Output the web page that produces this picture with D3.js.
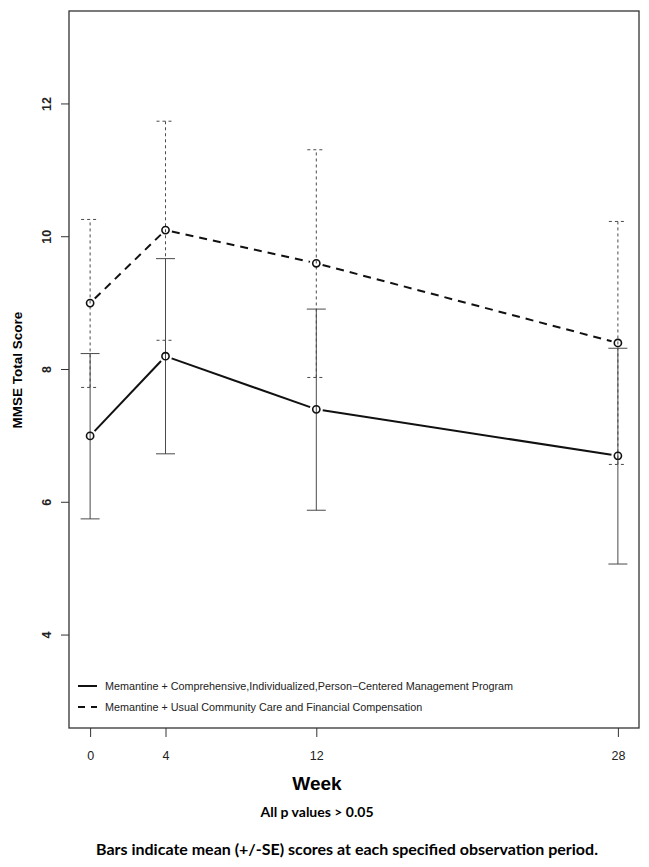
<!DOCTYPE html>
<html><head><meta charset="utf-8">
<script src="https://cdnjs.cloudflare.com/ajax/libs/d3/7.8.5/d3.min.js"></script>
<style>body{margin:0;background:#fff}svg{display:block}</style>
</head><body>
<script>
const weeks = [0, 4, 12, 28];
const seriesNames = [
  "Memantine + Comprehensive,Individualized,Person\u2212Centered Management Program",
  "Memantine + Usual Community Care and Financial Compensation"
];
const meanA = [7.0, 8.2, 7.4, 6.7];
const lowerA = [5.75, 6.73, 5.88, 5.07];
const upperA = [8.24, 9.67, 8.91, 8.32];
const meanB = [9.0, 10.1, 9.6, 8.4];
const lowerB = [7.73, 8.44, 7.88, 6.57];
const upperB = [10.26, 11.74, 11.31, 10.23];
const yTicks = [4, 6, 8, 10, 12];
const xTicks = [0, 4, 12, 28];

(function(){
const W = 649, H = 867;
const FONT = "'Liberation Sans', Arial, Helvetica, sans-serif";
const svg = d3.select("body").append("svg").attr("width", W).attr("height", H);
const pL = 69, pR = 639, pT = 11, pB = 728;
const x = d3.scaleLinear().domain([-1.12, 29.12]).range([pL, pR]);
const y = d3.scaleLinear().domain([2.6, 13.4]).range([pB, pT]);

svg.append("rect").attr("x", pL).attr("y", pT).attr("width", pR-pL).attr("height", pB-pT)
  .attr("fill", "none").attr("stroke", "#333").attr("stroke-width", 1.3);

const yAxis = d3.axisLeft(y).tickValues(yTicks).tickSize(8).tickFormat(d3.format("d"));
const gy = svg.append("g").attr("transform", `translate(${pL},0)`).call(yAxis);
gy.select(".domain").remove();
gy.selectAll("line").attr("stroke", "#333");
gy.selectAll(".tick").attr("transform", null);
gy.selectAll(".tick line").attr("y1", d => y(d)).attr("y2", d => y(d));
gy.selectAll(".tick text").attr("x", null).attr("dy", null).attr("y", null)
  .attr("transform", d => `translate(${47 - pL},${y(d)}) rotate(-90)`)
  .attr("text-anchor", "middle").attr("dominant-baseline", "central")
  .style("font-family", FONT).style("font-size", "12.5px")
  .style("font-weight", "bold").attr("fill", "#222");

const xAxis = d3.axisBottom(x).tickValues(xTicks).tickSize(9).tickPadding(14);
const gx = svg.append("g").attr("transform", `translate(0,${pB})`).call(xAxis);
gx.select(".domain").remove();
gx.selectAll("line").attr("stroke", "#333");
gx.selectAll("text").style("font-family", FONT).style("font-size", "12.5px").attr("fill", "#222");

svg.append("text").attr("transform", `translate(17,370) rotate(-90)`).attr("text-anchor", "middle")
  .attr("dominant-baseline", "central")
  .style("font-family", FONT).style("font-size", "13.5px").style("font-weight", "bold")
  .text("MMSE Total Score");
svg.append("text").attr("x", 317).attr("y", 790).attr("text-anchor", "middle")
  .style("font-family", FONT).style("font-size", "19px").style("font-weight", "bold")
  .text("Week");

function errBars(lo, hi, cap, dash) {
  const g = svg.append("g").attr("stroke", "#4a4a4a").attr("stroke-width", 1).attr("fill", "none");
  weeks.forEach((w, i) => {
    const cx = x(w);
    g.append("line").attr("x1", cx).attr("x2", cx).attr("y1", y(lo[i])).attr("y2", y(hi[i]))
      .attr("stroke-dasharray", dash);
    [lo[i], hi[i]].forEach(v => g.append("line").attr("x1", cx-cap).attr("x2", cx+cap)
      .attr("y1", y(v)).attr("y2", y(v)).attr("stroke-dasharray", dash));
  });
}
errBars(lowerA, upperA, 9.5, null);
errBars(lowerB, upperB, 9, "3,3");

function seriesLine(vals, dash) {
  const pts = weeks.map((w, i) => [x(w), y(vals[i])]);
  const g = svg.append("g");
  for (let i = 0; i < pts.length - 1; i++) {
    const [x1, y1] = pts[i], [x2, y2] = pts[i+1];
    const len = Math.hypot(x2-x1, y2-y1), gap = 6.5;
    const ux = (x2-x1)/len, uy = (y2-y1)/len;
    g.append("line").attr("x1", x1+ux*gap).attr("y1", y1+uy*gap).attr("x2", x2-ux*gap).attr("y2", y2-uy*gap)
      .attr("stroke", "#111").attr("stroke-width", 2).attr("stroke-dasharray", dash);
  }
  g.selectAll("circle").data(pts).join("circle").attr("cx", d => d[0]).attr("cy", d => d[1]).attr("r", 3.6)
    .attr("fill", "none").attr("stroke", "#111").attr("stroke-width", 1.6);
}
seriesLine(meanA, null);
seriesLine(meanB, "8,6");

const leg = svg.append("g");
[[686, null], [707, "7,6"]].forEach(([ly, dash], i) => {
  leg.append("line").attr("x1", 78).attr("x2", 97).attr("y1", ly).attr("y2", ly)
    .attr("stroke", "#111").attr("stroke-width", 2).attr("stroke-dasharray", dash);
  leg.append("text").attr("x", 105).attr("y", ly).attr("dominant-baseline", "central")
    .style("font-family", FONT).style("font-size", "10.8px").attr("fill", "#222")
    .text(seriesNames[i]);
});

svg.append("text").attr("x", 317).attr("y", 817).attr("text-anchor", "middle")
  .style("font-family", "Lato, Carlito, sans-serif").style("font-size", "14px").style("font-weight", "bold")
  .text("All p values > 0.05");
svg.append("text").attr("x", 347).attr("y", 855).attr("text-anchor", "middle")
  .style("font-family", "Lato, Carlito, sans-serif").style("font-size", "16px").style("font-weight", "bold")
  .text("Bars indicate mean (+/-SE) scores at each specified observation period.");
})();
</script>
</body></html>
